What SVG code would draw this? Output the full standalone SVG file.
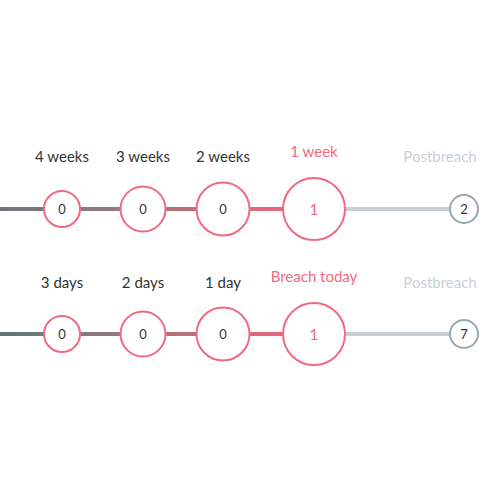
<svg xmlns="http://www.w3.org/2000/svg" width="500" height="500" viewBox="0 0 500 500">
<defs>
<linearGradient id="g1" gradientUnits="userSpaceOnUse" x1="0" y1="0" x2="290" y2="0">
<stop offset="0" stop-color="#72767d"/>
<stop offset="0.3" stop-color="#867a82"/>
<stop offset="0.6" stop-color="#b86f7b"/>
<stop offset="1" stop-color="#ec667c"/>
</linearGradient>
<linearGradient id="g2" gradientUnits="userSpaceOnUse" x1="0" y1="0" x2="290" y2="0">
<stop offset="0" stop-color="#5b7876"/>
<stop offset="0.3" stop-color="#877a80"/>
<stop offset="0.6" stop-color="#b86f7b"/>
<stop offset="1" stop-color="#ec667c"/>
</linearGradient>
<style>
.lbl{font-family:Lato,"Liberation Sans",sans-serif;font-size:15px;fill:#333;text-anchor:middle}
.hot{fill:#f06a82}
.post{fill:#c9d1d9}
.c{fill:#fff;stroke:#f06a82;stroke-width:2}
.cp{fill:#fff;stroke:#9ba6af;stroke-width:2}
.n{font-family:Lato,"Liberation Sans",sans-serif;font-size:13px;fill:#333;text-anchor:middle}
.nb{font-family:Lato,"Liberation Sans",sans-serif;font-size:16px;fill:#f06a82;text-anchor:middle}
</style>
</defs>
<g id="connectors">
<line x1="0" y1="209" x2="290" y2="209" stroke="url(#g1)" stroke-width="4"/>
<line x1="340" y1="209" x2="455" y2="209" stroke="#c8d0d6" stroke-width="4"/>
<line x1="0" y1="334" x2="290" y2="334" stroke="url(#g2)" stroke-width="4"/>
<line x1="340" y1="334" x2="455" y2="334" stroke="#c8d0d6" stroke-width="4"/>
</g>
<g id="n-4weeks"><text class="lbl" x="62" y="162">4 weeks</text><circle class="c" cx="62" cy="209" r="18"/><text class="n" x="62" y="214">0</text></g>
<g id="n-3weeks"><text class="lbl" x="143" y="162">3 weeks</text><circle class="c" cx="143" cy="209" r="22.5"/><text class="n" x="143" y="214">0</text></g>
<g id="n-2weeks"><text class="lbl" x="223" y="162">2 weeks</text><circle class="c" cx="223" cy="209" r="26.5"/><text class="n" x="223" y="214">0</text></g>
<g id="n-1week"><text class="lbl hot" x="314" y="157">1 week</text><circle class="c" cx="314" cy="209" r="31"/><text class="nb" x="314" y="215">1</text></g>
<g id="n-post1"><text class="lbl post" x="440" y="162">Postbreach</text><circle class="cp" cx="464" cy="209" r="14"/><text class="n" x="464" y="214">2</text></g>
<g id="n-3days"><text class="lbl" x="62" y="288">3 days</text><circle class="c" cx="62" cy="334" r="18"/><text class="n" x="62" y="339">0</text></g>
<g id="n-2days"><text class="lbl" x="143" y="288">2 days</text><circle class="c" cx="143" cy="334" r="22.5"/><text class="n" x="143" y="339">0</text></g>
<g id="n-1day"><text class="lbl" x="223" y="288">1 day</text><circle class="c" cx="223" cy="334" r="26.5"/><text class="n" x="223" y="339">0</text></g>
<g id="n-today"><text class="lbl hot" x="314" y="282">Breach today</text><circle class="c" cx="314" cy="334" r="31"/><text class="nb" x="314" y="340">1</text></g>
<g id="n-post2"><text class="lbl post" x="440" y="288">Postbreach</text><circle class="cp" cx="464" cy="334" r="14"/><text class="n" x="464" y="339">7</text></g>
</svg>
